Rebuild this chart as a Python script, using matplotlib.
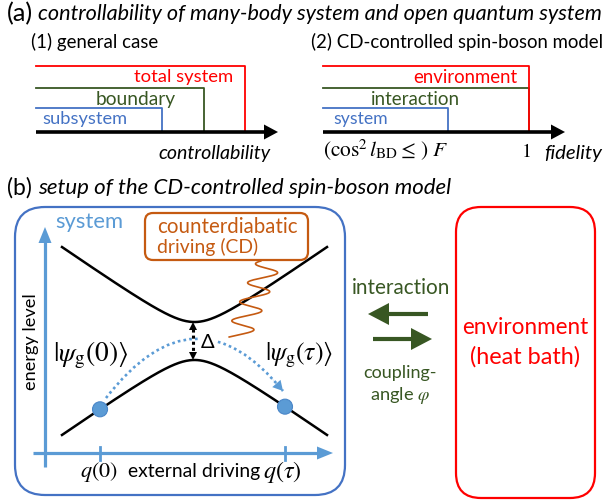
import matplotlib
matplotlib.use('Agg')
import matplotlib.pyplot as plt
import numpy as np
from matplotlib.patches import FancyBboxPatch, Polygon, Circle
from matplotlib.path import Path
from matplotlib.patches import PathPatch

# ---------------- data ----------------
general_labels = ['subsystem', 'boundary', 'total system']
general_controllability = [0.553, 0.737, 0.917]
cd_labels = ['system', 'interaction', 'environment']
cd_fidelity = [0.607, 1.0, 1.0]
fidelity_ticks = [0.607, 1.0]
fidelity_tick_labels = [r'$(\cos^2 l_{\mathrm{BD}} \leq\,)\; F$', r'$1$']

# avoided crossing (arbitrary units)
gap_half = 0.202          # Delta / 2
slope = 0.979
q_range = [-1.0, 1.0]
q_marks = [-0.713, 0.683]
q_mark_labels = [r'$q(0)$', r'$q(\tau)$']
state_labels = [r'$|\psi_{\mathrm{g}}(0)\rangle$', r'$|\psi_{\mathrm{g}}(\tau)\rangle$']

RED = '#FF0000'
GREEN = '#385723'
BLUE = '#4472C4'
LBLUE = '#5B9BD5'
ORANGE = '#C55A11'

plt.rcParams['font.family'] = ['Lato', 'DejaVu Sans']
plt.rcParams['mathtext.fontset'] = 'stix'

fig = plt.figure(figsize=(6.05, 5.03), dpi=100)
ax = fig.add_axes([0, 0, 1, 1])
ax.set_xlim(0, 605)
ax.set_ylim(503, 0)
ax.axis('off')
renderer = fig.canvas.get_renderer()


def fit_text(x0, x1, y, s, color='black', ha='left', style='normal', **kw):
    xpos = {'left': x0, 'right': x1, 'center': 0.5 * (x0 + x1)}[ha]
    t = ax.text(xpos, y, s, color=color, ha=ha, va='center', fontsize=12,
                style=style, **kw)
    for _ in range(2):
        w = t.get_window_extent(renderer).width
        t.set_fontsize(t.get_fontsize() * abs(x1 - x0) / w)
    return t


def arrow(x0, y0, x1, y1, color, lw, hl, hw, ls='-', zorder=3):
    d = np.array([x1 - x0, y1 - y0], float)
    L = np.hypot(*d)
    u = d / L
    n = np.array([-u[1], u[0]])
    base = np.array([x1, y1]) - u * hl
    ax.plot([x0, base[0] + u[0] * 1.0], [y0, base[1] + u[1] * 1.0], color=color,
            lw=lw, ls=ls, solid_capstyle='butt', zorder=zorder)
    tri = [(x1, y1), tuple(base + n * hw), tuple(base - n * hw)]
    ax.add_patch(Polygon(tri, closed=True, color=color, lw=0, zorder=zorder))


# ---------------- panel (a) ----------------
fit_text(7, 33, 14, '(a)')
fit_text(38, 603, 14, 'controllability of many-body system and open quantum system', style='italic')

fit_text(31, 158, 42, '(1) general case')
fit_text(311, 603, 42, '(2) CD-controlled spin-boson model')

colors3 = [BLUE, GREEN, RED]
tier_y = [108, 88, 66]

# panel (1)
x0a, span_a = 36, 228
for v, c, ty in zip(general_controllability, colors3, tier_y):
    xr = x0a + v * span_a
    ax.plot([x0a, xr, xr], [ty, ty, 132], color=c, lw=1.3, zorder=2)
arrow(x0a, 132, 278, 132, 'black', 2.6, 14, 7.5)
fit_text(42, 127, 119, general_labels[0], color=BLUE)
fit_text(96, 176, 99, general_labels[1], color=GREEN)
fit_text(134, 233, 77, general_labels[2], color=RED, ha='right')
fit_text(158, 270, 153, 'controllability', style='italic')

# panel (2)
x0b, span_b = 323, 206
for v, c, ty in zip(cd_fidelity, colors3, tier_y):
    xr = x0b + v * span_b
    ax.plot([x0b, xr, xr], [ty, ty, 132], color=c, lw=1.3, zorder=2)
arrow(x0b, 132, 565, 132, 'black', 2.6, 14, 7.5)
fit_text(333, 388, 119, cd_labels[0], color=BLUE)
fit_text(371, 460, 99, cd_labels[1], color=GREEN)
fit_text(413, 517, 77, cd_labels[2], color=RED, ha='right')
fit_text(323, 448, 150, fidelity_tick_labels[0])
fit_text(521, 531, 151, fidelity_tick_labels[1])
fit_text(544, 602, 153, 'fidelity', style='italic')

# ---------------- panel (b) ----------------
fit_text(7, 32, 188, '(b)')
fit_text(38, 453, 188, 'setup of the CD-controlled spin-boson model', style='italic')

ax.add_patch(FancyBboxPatch((15, 207), 330, 288, boxstyle='round,pad=0,rounding_size=30',
                            fc='none', ec=BLUE, lw=1.6, zorder=1))
ax.add_patch(FancyBboxPatch((456, 207), 139, 291, boxstyle='round,pad=0,rounding_size=25',
                            fc='none', ec=RED, lw=1.6, zorder=1))
fit_text(55, 123, 222, 'system', color=LBLUE)

# axes of energy diagram
arrow(45, 467, 45, 227, LBLUE, 2.3, 16, 6.5)
arrow(33, 453, 333, 453, LBLUE, 2.3, 16, 6.5)

xc, xs = 194.5, 132.5
yc, ys = 341, 94


def qx(q):
    return xc + np.asarray(q) * xs


def ey(e):
    return yc - np.asarray(e) * ys


for qm in q_marks:
    ax.plot([qx(qm), qx(qm)], [447, 460], color=LBLUE, lw=2.0, zorder=2)
fit_text(80, 118, 472, q_mark_labels[0])
fit_text(128, 260, 472, 'external driving')
fit_text(263, 302, 472, q_mark_labels[1])

t_el = ax.text(31, 342, 'energy level', rotation=90, ha='center', va='center', fontsize=12)
bb = t_el.get_window_extent(renderer)
t_el.set_fontsize(12 * 97 / bb.height)

qq = np.linspace(q_range[0], q_range[1], 300)
E = np.sqrt(gap_half ** 2 + (slope * qq) ** 2)
ax.plot(qx(qq), ey(E), color='black', lw=1.8, zorder=3)
ax.plot(qx(qq), ey(-E), color='black', lw=1.8, zorder=3)

# dotted path of the ground state
P0 = np.array([106, 398.0])
P2 = np.array([283, 391.0])
C = np.array([195, 283.0])
path = Path([P0, C, P2], [Path.MOVETO, Path.CURVE3, Path.CURVE3])
ax.add_patch(PathPatch(path, fc='none', ec=LBLUE, lw=1.9, ls=(0, (1, 1.2)), zorder=2))
tt = np.linspace(0.93, 1.0, 2)
pts = [(1 - t) ** 2 * P0 + 2 * (1 - t) * t * C + t ** 2 * P2 for t in tt]
arrow(pts[0][0], pts[0][1], pts[1][0], pts[1][1], LBLUE, 0.1, 10, 5.5)

# state dots
for qm in q_marks:
    e = -np.sqrt(gap_half ** 2 + (slope * qm) ** 2)
    ax.add_patch(Circle((qx(qm), ey(e)), 7.5, fc=LBLUE, ec='#4A86C8', lw=0.8, zorder=4))

fit_text(53, 128, 355, state_labels[0])
fit_text(265, 333, 355, state_labels[1])

# gap arrow
ytop, ybot = ey(gap_half), ey(-gap_half)
ax.plot([193, 193], [ytop + 7, ybot - 7], color='black', lw=2.2, ls=(0, (1, 1)), zorder=3)
ax.add_patch(Polygon([(193, ytop), (189, ytop + 8), (197, ytop + 8)], color='black', lw=0, zorder=3))
ax.add_patch(Polygon([(193, ybot), (189, ybot - 8), (197, ybot - 8)], color='black', lw=0, zorder=3))
ax.add_patch(Circle((208, 342), 9, fc='white', ec='none', zorder=2.5))
ax.text(201, 342, 'Δ', ha='left', va='center', fontsize=14.5, color='black')

# CD box and wave
ax.add_patch(FancyBboxPatch((145, 213), 163, 47, boxstyle='round,pad=0,rounding_size=8',
                            fc='white', ec=ORANGE, lw=1.6, zorder=3))
fit_text(157, 298, 227, 'counterdiabatic', color=ORANGE)
fit_text(157, 258, 247, 'driving (CD)', color=ORANGE)
wy = np.linspace(261, 337, 300)
wx = 270 - 32 * (wy - 260) / 77 + 13 * np.sin(2 * np.pi * (wy - 260) / 19 - 2.73)
ax.plot(wx, wy, color=ORANGE, lw=1.2, zorder=4)

# interaction arrows
fit_text(352, 450, 288, 'interaction', color=GREEN)
arrow(428, 314, 368, 314, GREEN, 3.0, 21, 11)
arrow(373, 339, 432, 339, GREEN, 3.0, 21, 11)
fit_text(363, 437, 373, 'coupling-', color=GREEN)
fit_text(370, 430, 395, r'angle $\varphi$', color=GREEN)

fit_text(462, 588, 327, 'environment', color=RED)
fit_text(470, 580, 357, '(heat bath)', color=RED)

fig.savefig('out.png', dpi=100)
